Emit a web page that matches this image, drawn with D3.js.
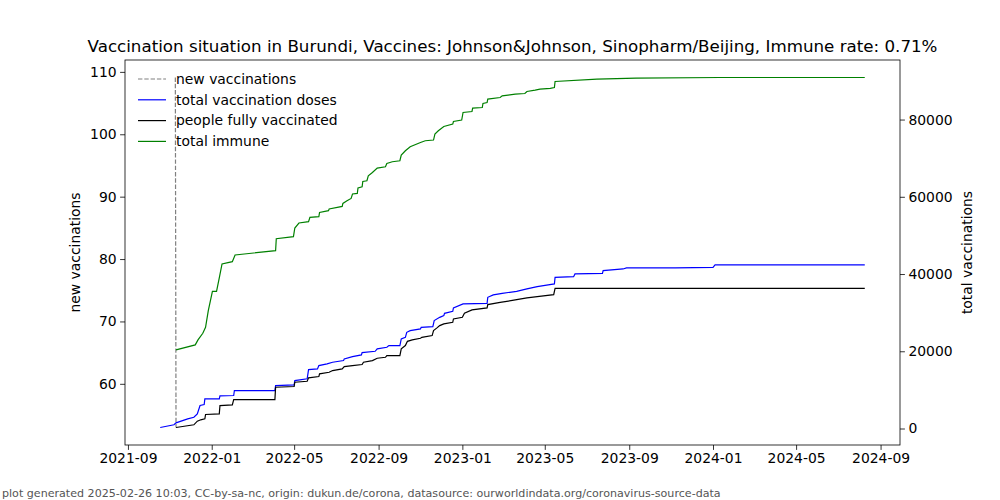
<!DOCTYPE html>
<html>
<head>
<meta charset="utf-8">
<script src="https://cdn.jsdelivr.net/npm/d3@7"></script>
<style>
  body { margin: 0; background: #fff; }
  svg { display: block; font-family: "DejaVu Sans", sans-serif; }
</style>
</head>
<body>
<svg id="chart" width="1000" height="500"></svg>
<script>
// ---------------- data ----------------
const titleText = "Vaccination situation in Burundi, Vaccines: Johnson&Johnson, Sinopharm/Beijing, Immune rate: 0.71%";
const footerText = "plot generated 2025-02-26 10:03, CC-by-sa-nc, origin: dukun.de/corona, datasource: ourworldindata.org/coronavirus-source-data";
const seriesNames = ["new vaccinations", "total vaccination doses", "people fully vaccinated", "total immune"];

const newVaccDates = ["2021-11-09", "2021-11-10"];
const newVaccValues = [109.1, 53.0];

const totalDosesDates = ["2021-10-18","2021-11-07","2021-11-10","2021-11-27","2021-12-06","2021-12-11","2021-12-15","2021-12-21","2021-12-22","2022-01-12","2022-01-13","2022-02-02","2022-02-03","2022-04-03","2022-04-04","2022-05-01","2022-05-02","2022-05-20","2022-05-22","2022-06-04","2022-06-06","2022-06-18","2022-06-26","2022-07-12","2022-07-13","2022-07-25","2022-08-07","2022-08-08","2022-08-27","2022-08-30","2022-09-13","2022-09-16","2022-10-02","2022-10-04","2022-10-10","2022-10-12","2022-10-17","2022-11-01","2022-11-02","2022-11-19","2022-11-21","2022-11-29","2022-12-05","2022-12-06","2022-12-18","2022-12-19","2023-01-02","2023-02-06","2023-02-07","2023-02-15","2023-02-28","2023-03-21","2023-04-05","2023-04-20","2023-05-06","2023-05-15","2023-05-16","2023-06-12","2023-06-14","2023-07-24","2023-07-25","2023-08-23","2023-08-28","2023-11-07","2024-01-01","2024-01-04","2024-08-09"];
const totalDosesValues = [260,960,1470,2510,2920,3800,5950,6210,7680,7680,8460,8540,9830,9830,11120,11310,12420,12860,15260,15440,16300,16740,17150,17590,18030,18630,19070,19660,20000,20620,21030,21470,21470,23210,23620,24910,25350,25790,26210,26390,27940,28790,29230,29830,30350,31230,32260,32420,33970,34590,35000,35520,36140,36740,37180,37430,39140,39320,40020,40180,40870,41310,41570,41570,41730,42350,42350];

const fullyVaccDates = ["2021-11-10","2021-12-06","2021-12-11","2021-12-16","2021-12-22","2021-12-23","2022-01-12","2022-01-13","2022-01-31","2022-02-02","2022-04-03","2022-04-04","2022-05-01","2022-05-02","2022-05-20","2022-05-22","2022-06-06","2022-06-07","2022-06-21","2022-06-26","2022-07-10","2022-07-13","2022-07-25","2022-08-08","2022-08-10","2022-08-23","2022-08-30","2022-09-11","2022-09-13","2022-10-02","2022-10-04","2022-10-10","2022-10-13","2022-10-20","2022-11-01","2022-11-03","2022-11-18","2022-11-20","2022-11-25","2022-11-29","2022-12-05","2022-12-18","2022-12-19","2023-01-01","2023-01-04","2023-01-15","2023-02-06","2023-02-07","2023-02-25","2023-03-19","2023-04-05","2023-04-20","2023-05-14","2023-05-16","2024-08-09"];
const fullyVaccValues = [260,960,1890,2250,2510,3620,3800,5950,6130,7500,7500,10680,10870,11980,12240,13120,13450,14150,14560,15000,15440,16040,16300,16560,17150,17590,18190,18450,18890,18890,20620,21470,22580,22950,23360,23620,24060,25350,26050,26650,27090,27500,28380,28790,29830,30710,31230,32080,32670,33290,33810,34150,34670,36300,36300];

const immuneDates = ["2021-11-10","2021-12-08","2021-12-12","2021-12-19","2021-12-23","2021-12-27","2022-01-02","2022-01-08","2022-01-12","2022-01-16","2022-01-31","2022-02-04","2022-04-04","2022-04-05","2022-04-30","2022-05-02","2022-05-08","2022-05-22","2022-05-24","2022-06-06","2022-06-07","2022-06-20","2022-06-21","2022-07-10","2022-07-11","2022-07-17","2022-07-23","2022-07-25","2022-08-01","2022-08-02","2022-08-08","2022-08-09","2022-08-15","2022-08-17","2022-08-23","2022-08-30","2022-09-11","2022-09-13","2022-09-21","2022-10-02","2022-10-04","2022-10-10","2022-10-17","2022-11-01","2022-11-08","2022-11-20","2022-11-22","2022-11-27","2022-12-05","2022-12-18","2022-12-19","2022-12-31","2023-01-02","2023-01-15","2023-01-16","2023-01-30","2023-01-31","2023-02-06","2023-02-07","2023-02-25","2023-02-28","2023-03-19","2023-04-02","2023-04-05","2023-04-17","2023-04-24","2023-05-09","2023-05-15","2023-05-16","2023-07-16","2023-09-11","2024-01-11","2024-08-09"];
const immuneValues = [20360,21650,22950,24650,26210,30530,35520,35520,38990,42610,43200,44940,46050,49150,49670,51920,53210,53550,54660,54840,55960,56400,56840,57510,58290,58980,59580,60720,60870,62270,62610,63980,64160,65450,66300,67440,67780,68630,69070,69330,70810,71920,72950,74070,74510,74690,76240,77090,78210,78830,79500,79860,81830,82090,82970,83120,84160,84410,85290,85710,86150,86590,86740,87260,87620,87880,88090,88300,89850,90470,90730,90890,90890];

const xTickLabels = ["2021-09","2022-01","2022-05","2022-09","2023-01","2023-05","2023-09","2024-01","2024-05","2024-09"];
const leftTickValues = [60, 70, 80, 90, 100, 110];
const rightTickValues = [0, 20000, 40000, 60000, 80000];

// ---------------- layout ----------------
const W = 1000, H = 500;
const m = { left: 125, right: 100, top: 60, bottom: 55 };
const pw = W - m.left - m.right, ph = H - m.top - m.bottom;
const parse = d3.utcParse("%Y-%m-%d");
const parseM = d3.utcParse("%Y-%m");

const zip = (ds, vs) => ds.map((d, i) => ({ date: parse(d), value: vs[i] }));
const newVacc = zip(newVaccDates, newVaccValues);
const totals = [
  { name: seriesNames[1], color: "#0000ff", data: zip(totalDosesDates, totalDosesValues) },
  { name: seriesNames[2], color: "#000000", data: zip(fullyVaccDates, fullyVaccValues) },
  { name: seriesNames[3], color: "#008000", data: zip(immuneDates, immuneValues) }
];

function pad(ext) { const s = ext[1] - ext[0]; return [ext[0] - 0.05 * s, ext[1] + 0.05 * s]; }

const allDates = [...newVacc, ...totals.flatMap(t => t.data)].map(d => +d.date);
const xExt = pad(d3.extent(allDates));
const x = d3.scaleUtc().domain([new Date(xExt[0]), new Date(xExt[1])]).range([0, pw]);
const yL = d3.scaleLinear().domain(pad(d3.extent(newVacc, d => d.value))).range([ph, 0]);
const yR = d3.scaleLinear().domain(pad(d3.extent(totals.flatMap(t => t.data), d => d.value))).range([ph, 0]);

const svg = d3.select("#chart");
svg.append("rect").attr("width", W).attr("height", H).attr("fill", "#fff");
const g = svg.append("g").attr("transform", `translate(${m.left},${m.top})`);

// lines
const clip = svg.append("defs").append("clipPath").attr("id", "clip")
  .append("rect").attr("width", pw).attr("height", ph);
const plot = g.append("g").attr("clip-path", "url(#clip)");

const lineL = d3.line().x(d => x(d.date)).y(d => yL(d.value));
const lineR = d3.line().x(d => x(d.date)).y(d => yR(d.value));

plot.append("path").datum(newVacc).attr("d", lineL)
  .attr("fill", "none").attr("stroke", "#808080").attr("stroke-width", 1.2)
  .attr("stroke-dasharray", "4.4,1.9");
totals.forEach(t => {
  plot.append("path").datum(t.data).attr("d", lineR)
    .attr("fill", "none").attr("stroke", t.color).attr("stroke-width", 1.2)
    .attr("stroke-linejoin", "miter");
});

// axes
const tickFont = "13.9px";
const xAxis = d3.axisBottom(x).tickValues(xTickLabels.map(parseM)).tickFormat(d3.utcFormat("%Y-%m")).tickSizeOuter(0).tickSize(4.9).tickPadding(3.5);
const gx = g.append("g").attr("transform", `translate(0,${ph})`).call(xAxis);
const leftAxis = d3.axisLeft(yL).tickValues(leftTickValues).tickFormat(d3.format("d")).tickSizeOuter(0).tickSize(4.9).tickPadding(3.5);
const gl = g.append("g").call(leftAxis);
const rightAxis = d3.axisRight(yR).tickValues(rightTickValues).tickFormat(d3.format("d")).tickSizeOuter(0).tickSize(4.9).tickPadding(3.5);
const gr = g.append("g").attr("transform", `translate(${pw},0)`).call(rightAxis);
[gx, gl, gr].forEach(a => {
  a.select(".domain").remove();
  a.selectAll("line").attr("stroke", "#000").attr("stroke-width", 0.8);
  a.selectAll("text").attr("font-size", tickFont).attr("font-family", "DejaVu Sans").attr("fill", "#000");
});

// frame
g.append("rect").attr("width", pw).attr("height", ph).attr("fill", "none")
  .attr("stroke", "#000").attr("stroke-width", 0.8);

// axis labels
g.append("text").attr("transform", `translate(${-45},${ph / 2}) rotate(-90)`)
  .attr("text-anchor", "middle").attr("font-size", tickFont).text("new vaccinations");
g.append("text").attr("transform", `translate(${pw + 72},${ph / 2}) rotate(-90)`)
  .attr("text-anchor", "middle").attr("font-size", tickFont).text("total vaccinations");

// title
svg.append("text").attr("x", m.left + pw / 2).attr("y", 52).attr("text-anchor", "middle")
  .attr("font-size", "16.7px").text(titleText);

// footer
svg.append("text").attr("x", 2).attr("y", 497).attr("font-size", "11.1px").attr("fill", "#555").text(footerText);

// legend
const legend = g.append("g").attr("transform", "translate(13,19)");
const legColors = ["#808080", "#0000ff", "#000000", "#008000"];
seriesNames.forEach((n, i) => {
  const row = legend.append("g").attr("transform", `translate(0,${i * 20.8})`);
  row.append("line").attr("x1", 0).attr("x2", 28).attr("y1", 0).attr("y2", 0)
    .attr("stroke", legColors[i]).attr("stroke-width", 1.2)
    .attr("stroke-dasharray", i === 0 ? "4.4,1.9" : null);
  row.append("text").attr("x", 38).attr("y", 0).attr("dy", "0.35em")
    .attr("font-size", tickFont).text(n);
});
</script>
</body>
</html>
